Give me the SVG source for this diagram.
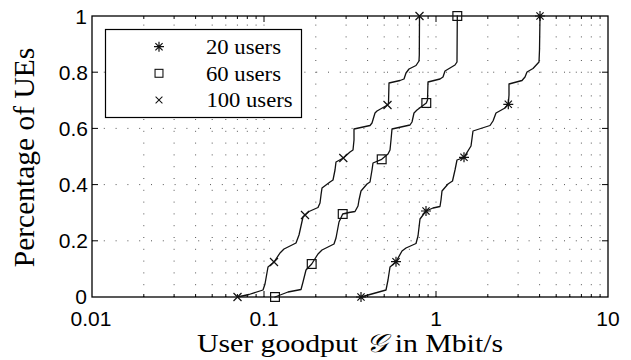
<svg xmlns="http://www.w3.org/2000/svg" xmlns:xlink="http://www.w3.org/1999/xlink" width="631" height="360" viewBox="0 0 631 360">
  <style>
    .grid { fill: none; stroke: #555; stroke-width: 1; stroke-dasharray: 1 10.8; }
    .frame { fill: none; stroke: #000; stroke-width: 1.3; }
    .tick { fill: none; stroke: #000; stroke-width: 1; }
    .curve { fill: none; stroke: #111; stroke-width: 1.3; stroke-linejoin: round; stroke-linecap: round; }
    .mk { fill: none; stroke: #111; stroke-width: 1.2; }
    .num { font-family: 'Liberation Sans', Arial, sans-serif; font-size: 21px; fill: #000; }
    .lbl { font-family: 'Liberation Serif', 'Times New Roman', serif; fill: #000; }
  </style>
  <defs>
    <g id="m-star" class="mk">
      <path d="M0 -5 V5 M-5 0 H5 M-3.6 -3.6 L3.6 3.6 M-3.6 3.6 L3.6 -3.6"/>
    </g>
    <g id="m-square" class="mk">
      <rect x="-4.4" y="-4.4" width="8.8" height="8.8"/>
    </g>
    <g id="m-x" class="mk">
      <path d="M-4 -4 L4 4 M-4 4 L4 -4"/>
    </g>
  </defs>

  <rect width="631" height="360" fill="#fff"/>

  <!-- dotted grid: minor + major decades on x, 0.2 steps on y -->
  <g id="grid">
    <path class="grid" d="
      M143.8 297 V16 M174.1 297 V16 M195.6 297 V16 M212.2 297 V16 M225.8 297 V16 M237.4 297 V16 M247.3 297 V16 M256.1 297 V16
      M264 297 V16
      M315.8 297 V16 M346.1 297 V16 M367.6 297 V16 M384.2 297 V16 M397.8 297 V16 M409.4 297 V16 M419.3 297 V16 M428.1 297 V16
      M436 297 V16
      M487.8 297 V16 M518.1 297 V16 M539.6 297 V16 M556.2 297 V16 M569.8 297 V16 M581.4 297 V16 M591.3 297 V16 M600.1 297 V16
      M92 240.8 H608 M92 184.6 H608 M92 128.4 H608 M92 72.2 H608"/>
  </g>

  <!-- axes frame and ticks -->
  <g id="axes">
    <rect class="frame" x="92" y="16" width="516" height="281"/>
    <path class="tick" d="
      M264 297 V291 M436 297 V291 M264 16 V22 M436 16 V22
      M92 240.8 H98 M92 184.6 H98 M92 128.4 H98 M92 72.2 H98
      M608 240.8 H602 M608 184.6 H602 M608 128.4 H602 M608 72.2 H602
      M143.8 297 V294 M174.1 297 V294 M195.6 297 V294 M212.2 297 V294 M225.8 297 V294 M237.4 297 V294 M247.3 297 V294 M256.1 297 V294
      M315.8 297 V294 M346.1 297 V294 M367.6 297 V294 M384.2 297 V294 M397.8 297 V294 M409.4 297 V294 M419.3 297 V294 M428.1 297 V294
      M487.8 297 V294 M518.1 297 V294 M539.6 297 V294 M556.2 297 V294 M569.8 297 V294 M581.4 297 V294 M591.3 297 V294 M600.1 297 V294
      M143.8 16 V19 M174.1 16 V19 M195.6 16 V19 M212.2 16 V19 M225.8 16 V19 M237.4 16 V19 M247.3 16 V19 M256.1 16 V19
      M315.8 16 V19 M346.1 16 V19 M367.6 16 V19 M384.2 16 V19 M397.8 16 V19 M409.4 16 V19 M419.3 16 V19 M428.1 16 V19
      M487.8 16 V19 M518.1 16 V19 M539.6 16 V19 M556.2 16 V19 M569.8 16 V19 M581.4 16 V19 M591.3 16 V19 M600.1 16 V19"/>
  </g>

  <!-- tick labels -->
  <g id="y-ticks" class="num" text-anchor="end">
    <text x="87" y="24">1</text>
    <text x="88" y="80">0.8</text>
    <text x="88" y="136">0.6</text>
    <text x="88" y="192">0.4</text>
    <text x="88" y="248">0.2</text>
    <text x="87" y="303.5">0</text>
  </g>
  <g id="x-ticks" class="num" text-anchor="middle">
    <text x="91" y="326">0.01</text>
    <text x="264" y="326">0.1</text>
    <text x="436" y="326">1</text>
    <text x="608" y="326">10</text>
  </g>

  <!-- axis titles -->
  <text id="x-title" class="lbl" x="197" y="352" font-size="26" textLength="306" lengthAdjust="spacingAndGlyphs">User goodput <tspan font-family="'DejaVu Serif', serif" font-style="italic">𝒢</tspan> in Mbit/s</text>
  <text id="y-title" class="lbl" font-size="29.5" text-anchor="middle" transform="translate(34 157.5) rotate(-90)">Percentage of UEs</text>

  <!-- CDF curves -->
  <g id="series">
    <g id="s100">
      <polyline class="curve" points="237.5,297 249,294.5 263,290 265,284 268,267 274,262 280,253 284,249 296,243 299,235 303,217 305,215 309,211.5 318,207.5 320,203 321,195 322,188 330,182 333,180 335,170 336,162 343.3,158 350,152 353,150 354,140 354,129 370,125.5 372,123 375,113 377,111 387.5,105 388.5,103 389,83 400,80.5 404,79 406,73 409,69 416,65.5 419,61 419.3,55 419.5,16"/>
      <use xlink:href="#m-x" x="237.5" y="297"/>
      <use xlink:href="#m-x" x="274" y="262"/>
      <use xlink:href="#m-x" x="305" y="215"/>
      <use xlink:href="#m-x" x="343.3" y="158"/>
      <use xlink:href="#m-x" x="387.5" y="105"/>
      <use xlink:href="#m-x" x="419.5" y="16"/>
    </g>
    <g id="s60">
      <polyline class="curve" points="275,297 288,292 301,289.5 303,282 306,270 311.7,264 318,254 322,250 334,244 336,238 339,222 342.7,214 349,212.5 355,211.5 358,206 359,200 361,191 367,184 370,182 372,170 373,163 381.7,159.3 388,154 390,150 391,140 392,129 410,125 412,122 414,113 417,110 426.3,103 427.5,100 428,82 440,79 443,77 445,71 450,68 455,65 457,62 457.3,16"/>
      <use xlink:href="#m-square" x="275" y="297"/>
      <use xlink:href="#m-square" x="311.7" y="264"/>
      <use xlink:href="#m-square" x="342.7" y="214"/>
      <use xlink:href="#m-square" x="381.7" y="159.3"/>
      <use xlink:href="#m-square" x="426.3" y="103"/>
      <use xlink:href="#m-square" x="457.3" y="16"/>
    </g>
    <g id="s20">
      <polyline class="curve" points="361,297 386,290 388,280 390,267 396,261.7 402,251 406,248 416,243.5 418,236 420,219 426,211 433,208 440,206.5 441,200 442,191 448,184 452.5,181 455,170 457,160 464,157.3 471,146 473,131 490,125.5 493,121 496,113 505,108 508.3,104.3 509,95 509,84 522,80.5 525,77 527,72 533,68.5 539,62 539.5,50 540,16"/>
      <use xlink:href="#m-star" x="361" y="297"/>
      <use xlink:href="#m-star" x="396" y="261.7"/>
      <use xlink:href="#m-star" x="426" y="211"/>
      <use xlink:href="#m-star" x="464" y="157.3"/>
      <use xlink:href="#m-star" x="508.3" y="104.3"/>
      <use xlink:href="#m-star" x="540" y="16"/>
    </g>
  </g>

  <!-- legend -->
  <g id="legend">
    <rect x="105.5" y="29.5" width="196" height="88" fill="#fff" stroke="#000" stroke-width="1.2"/>
    <use xlink:href="#m-star" x="159" y="46.7"/>
    <use xlink:href="#m-square" x="159" y="73.3" transform="translate(159 73.3) scale(0.9) translate(-159 -73.3)"/>
    <use xlink:href="#m-x" x="159" y="100" transform="translate(159 100) scale(0.85) translate(-159 -100)"/>
    <text class="lbl" font-size="20" x="206" y="54" textLength="75" lengthAdjust="spacingAndGlyphs">20 users</text>
    <text class="lbl" font-size="20" x="206" y="80.5" textLength="75" lengthAdjust="spacingAndGlyphs">60 users</text>
    <text class="lbl" font-size="20" x="206.5" y="107" textLength="86" lengthAdjust="spacingAndGlyphs">100 users</text>
  </g>
</svg>
